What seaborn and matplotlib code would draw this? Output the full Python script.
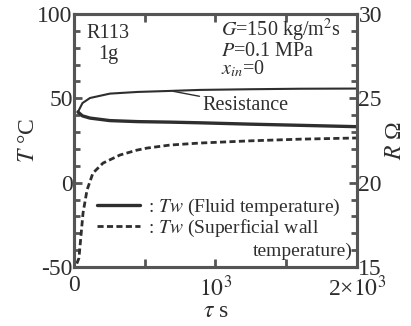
import numpy as np
import pandas as pd
import matplotlib
matplotlib.use("Agg")
import matplotlib.pyplot as plt
import seaborn as sns

# time in seconds
t_fluid = [28, 60, 113, 254, 450, 678, 890, 1244, 1600, 2000]
T_fluid = [41.9, 39.6, 38.3, 36.8, 36.2, 35.9, 35.5, 34.7, 34.0, 33.2]

t_wall = [20, 35, 64, 92, 134, 205, 325, 445, 516, 678, 890, 1244, 1600, 2000]
T_wall = [-48.0, -44.7, -18.0, -4.4, 5.7, 11.6, 16.4, 19.3, 20.5, 22.3, 23.5, 24.8, 25.8, 26.5]

t_res = [28, 60, 113, 254, 450, 678, 890, 1244, 1600, 2000]
R_res = [24.19, 24.72, 25.02, 25.28, 25.38, 25.44, 25.5, 25.54, 25.57, 25.58]

x_ticks = [0, 500, 1000, 1500, 2000]
x_ticklabels = ["0", "", "$10^3$", "", "2×$10^3$"]

sns.set_theme(style="ticks")
plt.rcParams["font.family"] = ["Liberation Serif", "DejaVu Serif"]
plt.rcParams["mathtext.fontset"] = "stix"
plt.rcParams["axes.unicode_minus"] = False

ink = "#2e2e2e"
fig = plt.figure(figsize=(4.11, 3.26), dpi=100)
ax = fig.add_axes([0.180, 0.181, 0.6886, 0.776])
ax2 = ax.twinx()

df_f = pd.DataFrame({"t": t_fluid, "T": T_fluid})
df_w = pd.DataFrame({"t": t_wall, "T": T_wall})
df_r = pd.DataFrame({"t": t_res, "R": R_res})

sns.lineplot(data=df_f, x="t", y="T", ax=ax, color=ink, lw=2.4,
             label=": $Tw$ (Fluid temperature)")
sns.lineplot(data=df_w, x="t", y="T", ax=ax, color=ink, lw=2.0, ls=(0, (2.2, 1.2)),
             label=": $Tw$ (Superficial wall")
sns.lineplot(data=df_r, x="t", y="R", ax=ax2, color=ink, lw=1.5, legend=False)

ax.set_xlim(0, 2000)
ax.set_ylim(-50, 100)
ax2.set_ylim(15, 30)

ax.set_xticks(x_ticks)
ax.set_xticklabels(x_ticklabels)
ax.set_yticks([-50, 0, 50, 100])
ax.set_yticks(np.arange(-50, 101, 10), minor=True)
ax2.set_yticks([15, 20, 25, 30])
ax2.set_yticks(np.arange(15, 31, 1), minor=True)

tick_kw = dict(direction="in", width=2, color="#555555")
for a in (ax, ax2):
    for s in a.spines.values():
        s.set_linewidth(2.2)
        s.set_color("#555555")
ax.tick_params(axis="both", which="major", length=6, labelsize=17, labelcolor=ink, pad=1, **tick_kw)
ax.tick_params(axis="x", top=True, pad=6)
ax.tick_params(axis="y", which="minor", length=4, **tick_kw)
ax.tick_params(axis="x", which="minor", bottom=False, top=False)
ax2.tick_params(axis="y", which="major", length=6, labelsize=17, labelcolor=ink, pad=1, **tick_kw)
ax2.tick_params(axis="y", which="minor", length=4, **tick_kw)

ax.set_xlabel(r"$\tau$ s", fontsize=17, color=ink, labelpad=0)
ax.set_ylabel("$T$ °C", fontsize=17, color=ink, labelpad=-1)
ax2.set_ylabel(r"$R$ Ω", fontsize=17, color=ink, labelpad=2)

leg = ax.legend(loc="lower left", bbox_to_anchor=(0.054, 0.079), frameon=False,
                fontsize=14, handlelength=2.2, handletextpad=0.4,
                labelspacing=0.0, borderaxespad=0)
for txt in leg.get_texts():
    txt.set_color(ink)
ax.text(0.985, 0.06, "temperature)", transform=ax.transAxes, ha="right", va="center",
        fontsize=14, color=ink)

ax.text(0.12, 0.88, "R113\n1g", transform=ax.transAxes, ha="center", va="center",
        fontsize=14.5, color=ink, linespacing=1.15)
ax.text(0.52, 0.866, "$G$=150 kg/m$^2$s\n$P$=0.1 MPa\n$x_{in}$=0", transform=ax.transAxes,
        ha="left", va="center", fontsize=14.5, color=ink, linespacing=0.85)

ax2.annotate("Resistance", xy=(700, 25.42), xytext=(910, 24.6), fontsize=14.5, color=ink,
             ha="left", va="center",
             arrowprops=dict(arrowstyle="-", color=ink, lw=1.0, shrinkA=0, shrinkB=0))

fig.savefig("out.png", dpi=100)
